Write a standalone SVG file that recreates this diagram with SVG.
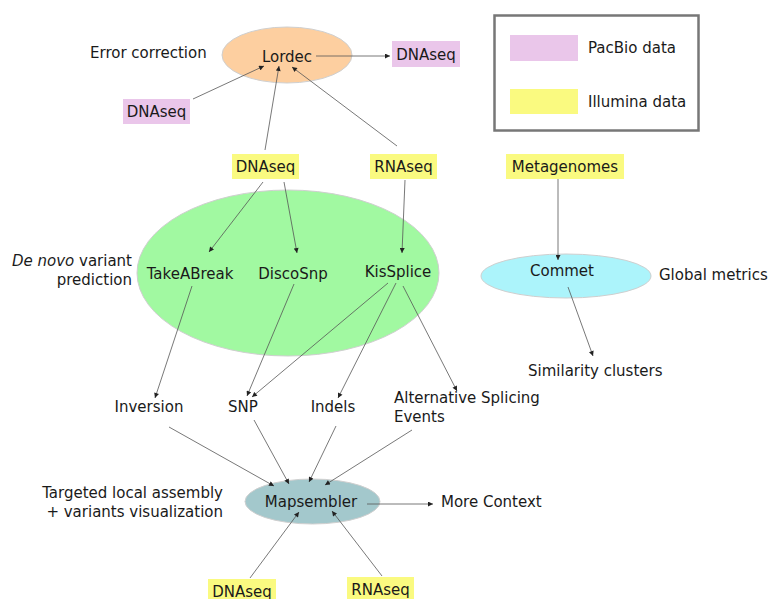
<svg xmlns="http://www.w3.org/2000/svg" width="768" height="599" viewBox="0 0 768 599">
<style>
text{font-family:"DejaVu Sans","Liberation Sans",sans-serif;font-size:15px;fill:#1a1a1a}
.m{text-anchor:middle}
.r{text-anchor:end}
.pink{fill:#eac6ea}
.yel{fill:#fafa80}
.ell{stroke:#cfcfcf;stroke-width:1}
.c line{stroke:#555;stroke-width:0.8;fill:none;marker-end:url(#ah)}
</style>
<defs>
<marker id="ah" viewBox="0 0 10 10" refX="10" refY="5" markerWidth="6" markerHeight="5" markerUnits="userSpaceOnUse" orient="auto">
<path d="M0,0 L10,5 L0,10 z" fill="#222"/>
</marker>
</defs>
<rect width="768" height="599" fill="#ffffff"/>

<g id="legend">
<rect x="494.5" y="15.5" width="204" height="115" fill="#fff" stroke="#777" stroke-width="2.5"/>
<rect class="pink" x="510" y="35" width="68" height="26"/>
<text x="588" y="53">PacBio data</text>
<rect class="yel" x="510" y="89" width="68" height="25"/>
<text x="588" y="107">Illumina data</text>
</g>

<g id="lordec">
<ellipse class="ell" cx="287" cy="55" rx="65" ry="28" fill="#fdcfa0"/>
<text class="m" x="287" y="62">Lordec</text>
</g>
<g id="label-error"><text x="90" y="58">Error correction</text></g>
<g id="dnaseq-pacbio-out">
<rect class="pink" x="392" y="41" width="68" height="26"/>
<text class="m" x="426" y="60">DNAseq</text>
</g>
<g id="dnaseq-pacbio-in">
<rect class="pink" x="123" y="99" width="67" height="25"/>
<text class="m" x="156.5" y="117">DNAseq</text>
</g>
<g id="dnaseq-illumina">
<rect class="yel" x="232" y="154" width="67" height="25"/>
<text class="m" x="265.5" y="172">DNAseq</text>
</g>
<g id="rnaseq-illumina">
<rect class="yel" x="370" y="154" width="67" height="25"/>
<text class="m" x="403.5" y="172">RNAseq</text>
</g>
<g id="metagenomes">
<rect class="yel" x="506" y="154" width="118" height="25"/>
<text class="m" x="565" y="172">Metagenomes</text>
</g>

<g id="denovo">
<ellipse class="ell" cx="288" cy="273" rx="151" ry="83" fill="#a1f9a1"/>
<text class="m" x="190" y="279">TakeABreak</text>
<text class="m" x="293" y="279">DiscoSnp</text>
<text class="m" x="398" y="277">KisSplice</text>
</g>
<g id="label-denovo">
<text class="r" x="132" y="266"><tspan font-style="italic">De novo</tspan> variant</text>
<text class="r" x="132" y="285">prediction</text>
</g>

<g id="commet">
<ellipse class="ell" cx="566" cy="276" rx="85" ry="22" fill="#acf4fb"/>
<text class="m" x="562" y="276">Commet</text>
</g>
<g id="label-global"><text x="659" y="280">Global metrics</text></g>
<g id="similarity"><text x="528" y="376">Similarity clusters</text></g>

<g id="inversion"><text class="m" x="149" y="412">Inversion</text></g>
<g id="snp"><text class="m" x="243" y="412">SNP</text></g>
<g id="indels"><text class="m" x="333" y="412">Indels</text></g>
<g id="alt-splicing">
<text x="394" y="403">Alternative Splicing</text>
<text x="394" y="422">Events</text>
</g>

<g id="mapsembler">
<ellipse class="ell" cx="312.5" cy="501.5" rx="67.5" ry="22.5" fill="#a3c8cc"/>
<text class="m" x="311" y="507">Mapsembler</text>
</g>
<g id="label-targeted">
<text class="r" x="223" y="498">Targeted local assembly</text>
<text class="r" x="223" y="517">+ variants visualization</text>
</g>
<g id="more-context"><text x="441" y="507">More Context</text></g>
<g id="dnaseq-bottom">
<rect class="yel" x="208" y="579" width="68" height="25"/>
<text class="m" x="242" y="597">DNAseq</text>
</g>
<g id="rnaseq-bottom">
<rect class="yel" x="347" y="577" width="67" height="25"/>
<text class="m" x="380.5" y="595">RNAseq</text>
</g>

<g id="connectors" class="c">
<line x1="316" y1="56" x2="390" y2="56"/>
<line x1="193" y1="99" x2="264" y2="66"/>
<line x1="265" y1="150" x2="279" y2="66"/>
<line x1="397" y1="146" x2="292" y2="67"/>
<line x1="263" y1="182" x2="209" y2="252"/>
<line x1="284" y1="182" x2="297" y2="253"/>
<line x1="405" y1="180" x2="402" y2="253"/>
<line x1="558" y1="179" x2="558" y2="260"/>
<line x1="192" y1="286" x2="155" y2="398"/>
<line x1="294" y1="284" x2="247" y2="396"/>
<line x1="388" y1="283" x2="252" y2="397"/>
<line x1="396" y1="283" x2="338" y2="398"/>
<line x1="403" y1="286" x2="457" y2="391"/>
<line x1="568" y1="287" x2="593" y2="356"/>
<line x1="169" y1="427" x2="274" y2="486"/>
<line x1="254" y1="420" x2="289" y2="484"/>
<line x1="336" y1="426" x2="309" y2="482"/>
<line x1="412" y1="430" x2="325" y2="485"/>
<line x1="367" y1="504" x2="433" y2="504"/>
<line x1="250" y1="578" x2="299" y2="512"/>
<line x1="382" y1="576" x2="332" y2="511"/>
</g>
</svg>
